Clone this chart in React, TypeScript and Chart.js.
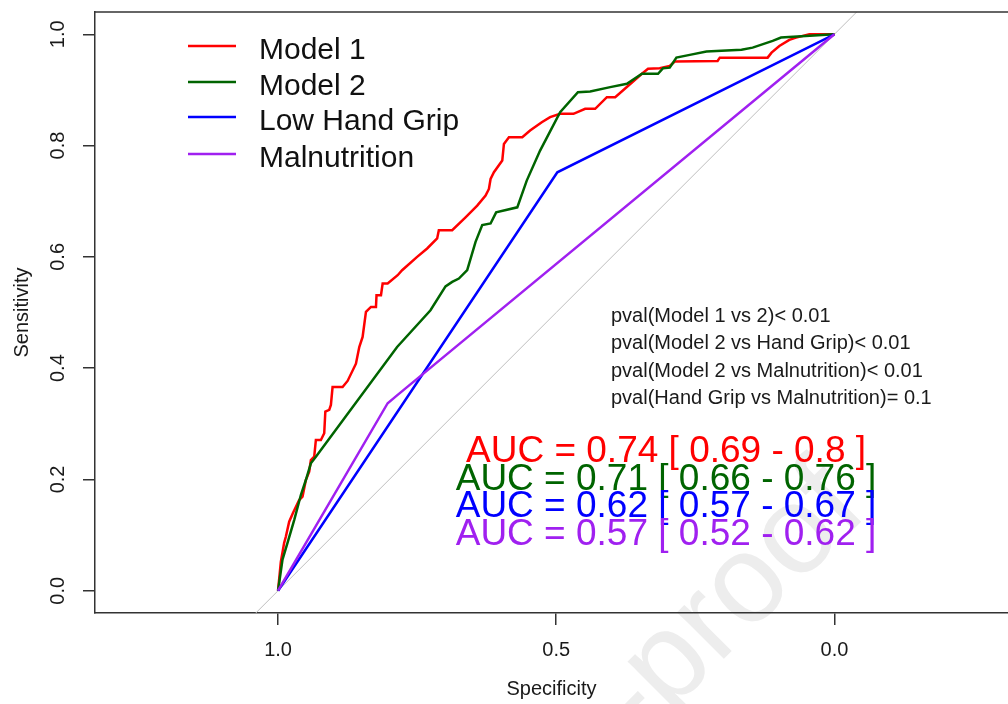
import React, { useEffect, useRef } from "react";
import { Chart, registerables } from "chart.js";

Chart.register(...registerables);

// ---- data (specificity on x, sensitivity on y) ----
const model1Spec = [1, 0.995, 0.989, 0.986, 0.98, 0.973, 0.962, 0.956, 0.95, 0.944, 0.941, 0.935, 0.932, 0.923, 0.917, 0.915, 0.908, 0.905, 0.902, 0.884, 0.875, 0.86, 0.854, 0.848, 0.842, 0.833, 0.824, 0.823, 0.815, 0.812, 0.803, 0.785, 0.777, 0.75, 0.732, 0.714, 0.711, 0.687, 0.663, 0.642, 0.627, 0.621, 0.618, 0.612, 0.597, 0.594, 0.585, 0.561, 0.547, 0.526, 0.511, 0.493, 0.469, 0.448, 0.43, 0.409, 0.394, 0.346, 0.335, 0.314, 0.296, 0.287, 0.21, 0.206, 0.12, 0.113, 0.099, 0.081, 0.069, 0.045, 0];
const model1Sens = [0, 0.052, 0.086, 0.097, 0.124, 0.14, 0.163, 0.169, 0.199, 0.214, 0.235, 0.241, 0.271, 0.271, 0.283, 0.322, 0.325, 0.334, 0.366, 0.366, 0.377, 0.408, 0.438, 0.456, 0.501, 0.51, 0.51, 0.531, 0.531, 0.552, 0.552, 0.567, 0.576, 0.6, 0.615, 0.633, 0.648, 0.648, 0.671, 0.692, 0.71, 0.722, 0.74, 0.752, 0.773, 0.803, 0.815, 0.815, 0.827, 0.842, 0.851, 0.857, 0.857, 0.866, 0.866, 0.887, 0.887, 0.929, 0.938, 0.939, 0.943, 0.951, 0.952, 0.958, 0.958, 0.967, 0.979, 0.99, 0.994, 1.0, 1.0];

const model2Spec = [1, 0.992, 0.983, 0.971, 0.959, 0.95, 0.941, 0.932, 0.786, 0.726, 0.699, 0.687, 0.675, 0.66, 0.645, 0.633, 0.618, 0.608, 0.57, 0.553, 0.529, 0.493, 0.461, 0.439, 0.403, 0.373, 0.346, 0.317, 0.308, 0.296, 0.284, 0.26, 0.23, 0.167, 0.147, 0.111, 0.096, 0];
const model2Sens = [0, 0.056, 0.086, 0.127, 0.172, 0.199, 0.229, 0.241, 0.438, 0.504, 0.547, 0.555, 0.561, 0.576, 0.627, 0.657, 0.66, 0.68, 0.689, 0.737, 0.791, 0.86, 0.896, 0.897, 0.905, 0.911, 0.929, 0.929, 0.939, 0.94, 0.958, 0.963, 0.969, 0.972, 0.976, 0.988, 0.994, 1.0];

const gripSpec = [1, 0.498, 0];
const gripSens = [0, 0.752, 1];

const malnSpec = [1, 0.803, 0.785, 0];
const malnSens = [0, 0.337, 0.352, 1];

const diagonalSpec = [1.2, -0.2];
const diagonalSens = [-0.2, 1.2];

const seriesLabels = ["Model 1", "Model 2", "Low Hand Grip", "Malnutrition"];
const seriesColors = ["#FF0000", "#006400", "#0000FF", "#A020F0"];

const xTicks = [0, 0.5, 1];
const yTicks = [0, 0.2, 0.4, 0.6, 0.8, 1];

const pvalLines = [
  "pval(Model 1 vs 2)< 0.01",
  "pval(Model 2 vs Hand Grip)< 0.01",
  "pval(Model 2 vs Malnutrition)< 0.01",
  "pval(Hand Grip vs Malnutrition)= 0.1",
];

const aucLines = [
  "AUC = 0.74 [ 0.69 - 0.8 ]",
  "AUC = 0.71 [ 0.66 - 0.76 ]",
  "AUC = 0.62 [ 0.57 - 0.67 ]",
  "AUC = 0.57 [ 0.52 - 0.62 ]",
];

const FONT = '"Liberation Sans", Arial, Helvetica, sans-serif';

function toPoints(xs: number[], ys: number[]) {
  return xs.map((x, i) => ({ x, y: ys[i] }));
}

const overlayPlugin = {
  id: "overlay",
  beforeDraw(chart: any) {
    const ctx = chart.ctx as CanvasRenderingContext2D;
    ctx.save();
    const size = 125;
    ctx.font = `${size}px ${FONT}`;
    ctx.fillStyle = "#EDEDED";
    ctx.translate(630, 705);
    ctx.rotate((-45 * Math.PI) / 180);
    const pre = ctx.measureText("Journal Pre").width;
    const dash = ctx.measureText("-").width;
    ctx.textBaseline = "alphabetic";
    ctx.textAlign = "left";
    ctx.fillText("Journal Pre-proof", -pre - dash / 2, 0.27 * size);
    ctx.restore();
  },
  afterDraw(chart: any) {
    const ctx = chart.ctx as CanvasRenderingContext2D;
    const { top, left, right } = chart.chartArea;
    ctx.save();
    // top border of box
    ctx.strokeStyle = "#333333";
    ctx.lineWidth = 1.5;
    ctx.beginPath();
    ctx.moveTo(left, top);
    ctx.lineTo(right, top);
    ctx.stroke();

    // legend
    const legendY = [46, 82, 117, 154];
    ctx.font = `30px ${FONT}`;
    ctx.textAlign = "left";
    ctx.textBaseline = "alphabetic";
    seriesLabels.forEach((lab, i) => {
      ctx.strokeStyle = seriesColors[i];
      ctx.lineWidth = 2.5;
      ctx.beginPath();
      ctx.moveTo(188, legendY[i]);
      ctx.lineTo(236, legendY[i]);
      ctx.stroke();
      ctx.fillStyle = "#111111";
      ctx.fillText(lab, 259, legendY[i] + 13);
    });

    // p-values
    const pvalY = [322, 349, 377, 404];
    ctx.font = `20px ${FONT}`;
    ctx.fillStyle = "#1a1a1a";
    pvalLines.forEach((t, i) => ctx.fillText(t, 611, pvalY[i]));

    // AUC labels
    const aucY = [462, 490, 517, 545];
    ctx.font = `37px ${FONT}`;
    ctx.textAlign = "center";
    aucLines.forEach((t, i) => {
      ctx.fillStyle = seriesColors[i];
      ctx.fillText(t, 666, aucY[i]);
    });
    ctx.restore();
  },
};

export default function App() {
  const ref = useRef<HTMLCanvasElement>(null);
  useEffect(() => {
    if (!ref.current) return;
    const tickFont = { family: FONT, size: 20 };
    const chart = new Chart(ref.current, {
      type: "line",
      data: {
        datasets: [
          {
            label: "diag",
            data: toPoints(diagonalSpec, diagonalSens),
            borderColor: "#BEBEBE",
            borderWidth: 1,
            pointRadius: 0,
            order: 5,
          },
          {
            label: seriesLabels[0],
            data: toPoints(model1Spec, model1Sens),
            borderColor: seriesColors[0],
            borderWidth: 2.5,
            pointRadius: 0,
            order: 4,
          },
          {
            label: seriesLabels[1],
            data: toPoints(model2Spec, model2Sens),
            borderColor: seriesColors[1],
            borderWidth: 2.5,
            pointRadius: 0,
            order: 3,
          },
          {
            label: seriesLabels[2],
            data: toPoints(gripSpec, gripSens),
            borderColor: seriesColors[2],
            borderWidth: 2.5,
            pointRadius: 0,
            order: 2,
          },
          {
            label: seriesLabels[3],
            data: toPoints(malnSpec, malnSens),
            borderColor: seriesColors[3],
            borderWidth: 2.5,
            pointRadius: 0,
            order: 1,
          },
        ],
      },
      options: {
        responsive: false,
        animation: false,
        events: [],
        layout: { padding: { top: 12, left: 0, right: 0, bottom: 0 } },
        elements: { line: { tension: 0, fill: false } },
        plugins: {
          legend: { display: false },
          tooltip: { enabled: false },
        },
        scales: {
          x: {
            type: "linear",
            reverse: true,
            min: -0.312,
            max: 1.329,
            afterBuildTicks: (s: any) => {
              s.ticks = xTicks.map((v) => ({ value: v }));
            },
            afterFit: (s: any) => {
              s.height = 91;
              s.paddingLeft = 0;
              s.paddingRight = 0;
            },
            ticks: {
              autoSkip: false,
              maxRotation: 0,
              minRotation: 0,
              padding: 13,
              color: "#1a1a1a",
              font: tickFont,
              callback: (v: any) => Number(v).toFixed(1),
            },
            grid: {
              display: true,
              drawOnChartArea: false,
              drawTicks: true,
              tickLength: 12,
              color: "#333333",
              lineWidth: 1.5,
            },
            border: { display: true, color: "#333333", width: 1.5 },
            title: {
              display: true,
              text: "Specificity",
              color: "#1a1a1a",
              font: tickFont,
              padding: { top: 0, bottom: 3 },
            },
          },
          y: {
            type: "linear",
            min: -0.04,
            max: 1.04,
            afterBuildTicks: (s: any) => {
              s.ticks = yTicks.map((v) => ({ value: v }));
            },
            afterFit: (s: any) => {
              s.width = 95;
              s.paddingTop = 0;
              s.paddingBottom = 0;
            },
            ticks: {
              autoSkip: false,
              minRotation: 90,
              maxRotation: 90,
              crossAlign: "center",
              padding: 11,
              color: "#1a1a1a",
              font: tickFont,
              callback: (v: any) => Number(v).toFixed(1),
            },
            grid: {
              display: true,
              drawOnChartArea: false,
              drawTicks: true,
              tickLength: 12,
              color: "#333333",
              lineWidth: 1.5,
            },
            border: { display: true, color: "#333333", width: 1.5 },
            title: {
              display: true,
              text: "Sensitivity",
              color: "#1a1a1a",
              font: tickFont,
              padding: { top: 10, bottom: 0 },
            },
          },
        },
      },
      plugins: [overlayPlugin],
    } as any);
    return () => chart.destroy();
  }, []);
  return (
    <div
      style={{
        position: "absolute",
        left: 0,
        top: 0,
        width: 1008,
        height: 704,
        background: "#ffffff",
        overflow: "hidden",
      }}
    >
      <canvas
        ref={ref}
        width={1008}
        height={704}
        style={{ display: "block", width: 1008, height: 704 }}
      />
    </div>
  );
}
